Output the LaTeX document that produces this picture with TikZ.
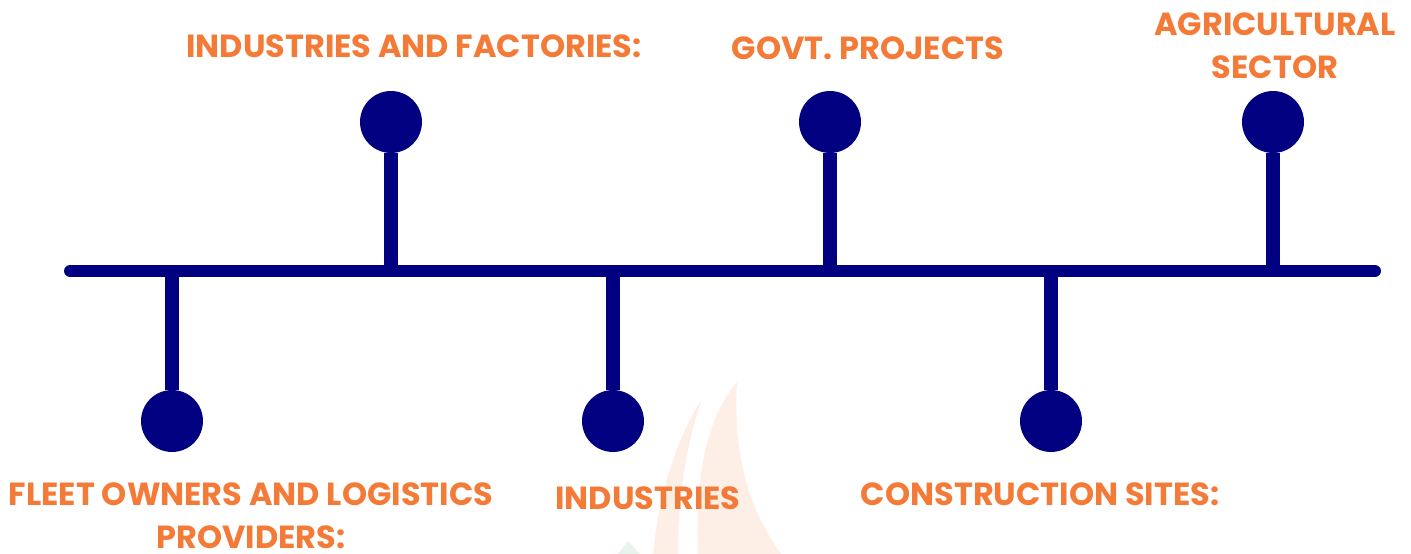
\documentclass[tikz,border=0pt]{standalone}
\usepackage{fontspec}
\setmainfont{Poppins}
\usepackage{xcolor}
\definecolor{dotblue}{HTML}{000080}
\definecolor{labelorange}{HTML}{F47A37}
\definecolor{flamebg}{HTML}{FDEFE6}
\definecolor{leafbg}{HTML}{E8F3EC}

\begin{document}
\begin{tikzpicture}[
    x=0.02cm, y=-0.02cm,
 dot/.style = {
        circle, fill=dotblue, inner sep=0pt, minimum size=1.24cm},
 stem/.style = {
        draw=dotblue, line width=7.9pt},
 axis/.style = {
        draw=dotblue, line width=6.8pt, line cap=round},
 mylabel/.style = {
        font=\fontsize{18.2}{24.4}\selectfont\bfseries,
        text=labelorange, align=center, inner sep=0pt},
 flame/.style = {fill=flamebg, draw=none}
                    ]
\useasboundingbox (0,0) rectangle (1411,554);
% the faint watermark behind
\fill[flame] (702,399) .. controls (675,440) and (658,500) .. (653,554)
        -- (678,554) .. controls (678,490) and (688,440) .. (702,399) -- cycle;
\fill[flame] (737,382) .. controls (705,420) and (695,480) .. (698,554)
        -- (781,554) .. controls (750,510) and (733,460) .. (737,382) -- cycle;
\fill[leafbg] (628,541) -- (618,554) -- (640,554) -- cycle;

% the time line
\coordinate (left) at (70,271);
\coordinate (right) at (1375,271);
\draw[axis] (left) -- (right);

% the dots above
\node (u1) [dot] at (391,122) {};
\node (u2) [dot] at (830,122) {};
\node (u3) [dot] at (1273,122) {};
% the dots below
\node (d1) [dot] at (172,421) {};
\node (d2) [dot] at (613,421) {};
\node (d3) [dot] at (1051,421) {};

% stems down to the line
\draw[stem] (u1) -- (u1 |- left);
\draw[stem] (u2) -- (u2 |- left);
\draw[stem] (u3) -- (u3 |- left);
\draw[stem] (d1) -- (d1 |- left);
\draw[stem] (d2) -- (d2 |- left);
\draw[stem] (d3) -- (d3 |- left);

% the labels
\node (lu1) [mylabel] at (414,46) {INDUSTRIES AND FACTORIES:};
\node (lu2) [mylabel] at (868,48) {GOVT. PROJECTS};
\node (lu3) [mylabel] at (1275,46) {AGRICULTURAL\\SECTOR};
\node (ld1) [mylabel] at (251,516) {FLEET OWNERS AND LOGISTICS\\PROVIDERS:};
\node (ld2) [mylabel] at (648,498) {INDUSTRIES};
\node (ld3) [mylabel] at (1040,494) {CONSTRUCTION SITES:};
\end{tikzpicture}
\end{document}
